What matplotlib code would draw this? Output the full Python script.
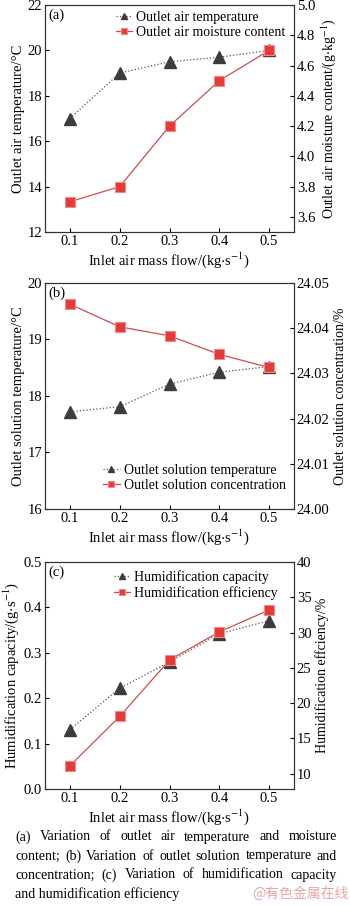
import matplotlib
matplotlib.use("Agg")
import matplotlib.pyplot as plt
from matplotlib.ticker import MultipleLocator

plt.rcParams['font.family'] = ['Liberation Serif', 'DejaVu Serif']
plt.rcParams['mathtext.fontset'] = 'stix'
plt.rcParams['font.size'] = 10.5

# data
mass_flow = [0.1, 0.2, 0.3, 0.4, 0.5]
air_temp = [17.0, 19.0, 19.5, 19.7, 20.0]
air_moisture = [3.70, 3.80, 4.20, 4.50, 4.70]
sol_temp = [17.72, 17.81, 18.21, 18.42, 18.52]
sol_conc = [24.0453, 24.0403, 24.0383, 24.0342, 24.0313]
hum_capacity = [0.131, 0.222, 0.280, 0.342, 0.371]
hum_efficiency = [11.1, 18.1, 26.1, 30.1, 33.2]

xlabel = "Inlet air mass flow/(kg$\\cdot$s$^{-1}$)"
caption_lines = [
    "(a) Variation of outlet air temperature and moisture",
    "content; (b) Variation of outlet solution temperature and",
    "concentration; (c) Variation of humidification capacity",
    "and humidification efficiency",
]

gray = "#3c3c3c"
red = "#e33a3a"
red_line = "#c8504f"


def draw_panel(fig, rect, y1, y2, ylim1, ylim2, step1, step2, fmt2, label1, label2,
               name1, name2, tag, legend_loc, legend_anchor):
    ax = fig.add_axes(rect)
    ax2 = ax.twinx()
    l1, = ax.plot(mass_flow, y1, ls=":", lw=0.9, c="#555555", marker="^", ms=8,
                  mfc=gray, mec=gray, label=name1, zorder=3)
    l2, = ax2.plot(mass_flow, y2, ls="-", lw=0.9, c=red_line, marker="s", ms=7,
                   mfc=red, mec="#f08a8a", mew=0.8, label=name2, zorder=4)
    ax.set_xlim(0.05, 0.55)
    ax.set_ylim(*ylim1)
    ax2.set_ylim(*ylim2)
    ax.xaxis.set_major_locator(MultipleLocator(0.1))
    ax.yaxis.set_major_locator(MultipleLocator(step1))
    ax2.yaxis.set_major_locator(MultipleLocator(step2))
    ax2.yaxis.set_major_formatter(fmt2)
    for a in (ax, ax2):
        a.tick_params(direction="in", length=3, width=0.8, labelsize=10.5, pad=2)
        for s in a.spines.values():
            s.set_linewidth(0.8)
            s.set_color("#333333")
    ax.set_xlabel(xlabel, fontsize=10.5, labelpad=2)
    ax.set_ylabel(label1, fontsize=10.5, labelpad=2)
    ax2.set_ylabel(label2, fontsize=10, labelpad=3)
    ax.text(0.012, 0.985, tag, transform=ax.transAxes, ha="left", va="top", fontsize=10.5)
    ax2.legend([l1, l2], [name1, name2], loc=legend_loc, bbox_to_anchor=legend_anchor,
               frameon=False, fontsize=10, handlelength=1.2, handletextpad=0.3,
               markerscale=0.6, borderaxespad=0.2, labelspacing=0.15)
    return ax, ax2


fig = plt.figure(figsize=(3.5, 9.06), dpi=100)
left, width = 0.1286, 0.7114

draw_panel(fig, [left, 0.7439, width, 0.2506], air_temp, air_moisture, (12, 22), (3.5, 5.0),
           2, 0.2, "{x:.1f}", "Outlet air temperature/°C",
           "Outlet air moisture content/(g$\\cdot$kg$^{-1}$)",
           "Outlet air temperature", "Outlet air moisture content", "(a)",
           "upper right", (1.0, 1.01))

draw_panel(fig, [left, 0.4382, width, 0.2495], sol_temp, sol_conc, (16, 20), (24.00, 24.05),
           1, 0.01, "{x:.2f}", "Outlet solution temperature/°C",
           "Outlet solution concentration/%",
           "Outlet solution temperature", "Outlet solution concentration", "(b)",
           "lower right", (1.0, 0.04))

draw_panel(fig, [left, 0.1291, width, 0.2505], hum_capacity, hum_efficiency, (0, 0.5), (7.8, 40),
           0.1, 5, "{x:.0f}", "Humidification capacity/(g$\\cdot$s$^{-1}$)",
           "Humidification effciency/%",
           "Humidification capacity", "Humidification efficiency", "(c)",
           "upper right", (0.97, 1.0))

# caption, justified lines
fig.canvas.draw()
renderer = fig.canvas.get_renderer()
x0, x1 = 15 / 350, 337 / 350
line_y = [837, 856, 875, 894]
for i, line in enumerate(caption_lines):
    y = 1 - line_y[i] / 906
    words = line.split(" ")
    if i == len(caption_lines) - 1:
        fig.text(x0, y, line, ha="left", va="center", fontsize=10)
        continue
    texts = [fig.text(0, y, w, ha="left", va="center", fontsize=10) for w in words]
    widths = [t.get_window_extent(renderer).width / fig.bbox.width for t in texts]
    gap = (x1 - x0 - sum(widths)) / (len(words) - 1)
    pos = x0
    for t, w in zip(texts, widths):
        t.set_x(pos)
        pos += w + gap

fig.text(0.995, 1 - 894 / 906, "@有色金属在线", ha="right", va="center", fontsize=10,
         color="#e8a5a5", family=['Noto Sans CJK SC', 'DejaVu Sans'])

fig.savefig("out.png", dpi=100)
